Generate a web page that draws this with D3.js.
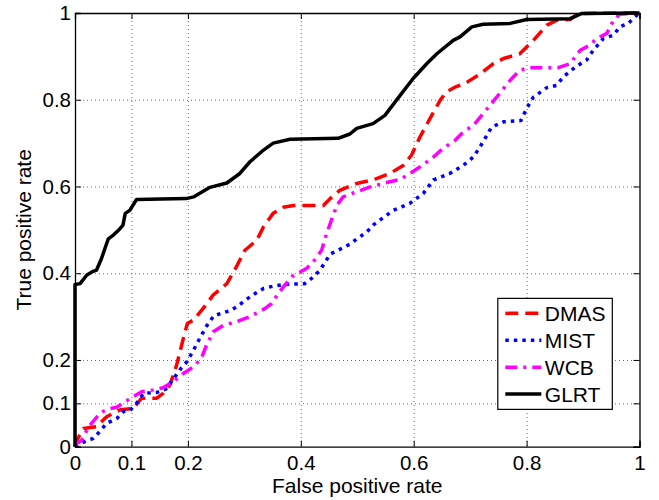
<!DOCTYPE html>
<html>
<head>
<meta charset="utf-8">
<script src="https://cdn.jsdelivr.net/npm/d3@7"></script>
<style>
  body { margin: 0; background: #fff; }
  svg text { font-family: "Liberation Sans", Arial, sans-serif; fill: #000; }
</style>
</head>
<body>
<div id="chart"></div>
<script>
// ROC curves: [false positive rate, true positive rate]
const dmasRoc = [[0,0],[0.002,0.012],[0.015,0.042],[0.038,0.046],[0.056,0.069],[0.080,0.085],[0.103,0.088],
  [0.118,0.112],[0.145,0.112],[0.156,0.123],[0.168,0.142],[0.180,0.188],[0.192,0.250],[0.199,0.284],
  [0.210,0.292],[0.227,0.319],[0.245,0.350],[0.269,0.376],[0.286,0.415],[0.301,0.453],[0.322,0.476],
  [0.334,0.507],[0.351,0.538],[0.369,0.552],[0.387,0.556],[0.440,0.556],[0.452,0.572],[0.469,0.591],
  [0.499,0.607],[0.528,0.615],[0.558,0.630],[0.582,0.649],[0.596,0.672],[0.611,0.714],[0.629,0.757],
  [0.647,0.799],[0.658,0.818],[0.673,0.829],[0.694,0.840],[0.717,0.859],[0.741,0.883],[0.759,0.895],
  [0.788,0.906],[0.812,0.937],[0.836,0.972],[0.853,0.983],[0.877,0.985],[0.892,0.999],[1,1]];

const mistRoc = [[0,0],[0.016,0.011],[0.032,0.019],[0.044,0.035],[0.056,0.054],[0.074,0.065],[0.086,0.081],
  [0.097,0.083],[0.109,0.100],[0.121,0.123],[0.145,0.125],[0.161,0.133],[0.177,0.161],[0.188,0.181],
  [0.199,0.197],[0.210,0.223],[0.221,0.250],[0.233,0.278],[0.246,0.302],[0.275,0.314],[0.287,0.323],
  [0.304,0.340],[0.319,0.353],[0.334,0.365],[0.351,0.370],[0.369,0.374],[0.407,0.376],[0.419,0.388],
  [0.434,0.407],[0.452,0.444],[0.469,0.455],[0.487,0.467],[0.499,0.479],[0.517,0.495],[0.528,0.511],
  [0.564,0.545],[0.593,0.561],[0.617,0.584],[0.635,0.615],[0.664,0.630],[0.688,0.649],[0.706,0.668],
  [0.723,0.703],[0.738,0.737],[0.759,0.749],[0.790,0.752],[0.800,0.780],[0.812,0.806],[0.836,0.828],
  [0.853,0.833],[0.865,0.853],[0.889,0.878],[0.906,0.891],[0.918,0.914],[0.936,0.941],[0.954,0.949],
  [0.965,0.968],[0.980,0.976],[0.992,0.991],[1,1]];

const wcbRoc = [[0,0],[0.002,0.006],[0.012,0.015],[0.023,0.043],[0.032,0.058],[0.044,0.077],[0.056,0.086],
  [0.074,0.091],[0.089,0.104],[0.103,0.115],[0.118,0.127],[0.139,0.131],[0.156,0.136],[0.174,0.150],
  [0.192,0.169],[0.210,0.184],[0.224,0.204],[0.233,0.234],[0.245,0.265],[0.263,0.280],[0.286,0.288],
  [0.310,0.300],[0.337,0.319],[0.348,0.330],[0.360,0.353],[0.372,0.373],[0.384,0.392],[0.399,0.403],
  [0.410,0.411],[0.422,0.426],[0.437,0.453],[0.443,0.480],[0.449,0.503],[0.464,0.557],[0.475,0.576],
  [0.493,0.585],[0.523,0.599],[0.558,0.611],[0.576,0.616],[0.593,0.630],[0.611,0.645],[0.635,0.668],
  [0.652,0.688],[0.673,0.706],[0.688,0.726],[0.706,0.741],[0.723,0.768],[0.747,0.806],[0.771,0.845],
  [0.788,0.868],[0.806,0.874],[0.856,0.874],[0.877,0.883],[0.895,0.914],[0.912,0.926],[0.924,0.941],
  [0.942,0.953],[0.954,0.983],[0.965,0.997],[1,1]];

const glrtRoc = [[0,0],[0,0.374],[0.009,0.376],[0.021,0.396],[0.030,0.403],[0.038,0.407],[0.047,0.434],
  [0.053,0.457],[0.059,0.479],[0.068,0.488],[0.077,0.499],[0.085,0.511],[0.089,0.538],[0.097,0.545],
  [0.109,0.570],[0.197,0.572],[0.210,0.576],[0.239,0.598],[0.269,0.608],[0.292,0.630],[0.310,0.657],
  [0.334,0.684],[0.351,0.700],[0.381,0.709],[0.466,0.711],[0.487,0.721],[0.499,0.734],[0.528,0.745],
  [0.549,0.764],[0.576,0.810],[0.599,0.849],[0.623,0.883],[0.641,0.906],[0.670,0.937],[0.682,0.945],
  [0.703,0.968],[0.723,0.974],[0.771,0.976],[0.800,0.985],[0.877,0.987],[0.898,0.999],[1,1]];

const seriesNames = ["DMAS", "MIST", "WCB", "GLRT"];
const xTicks = [0, 0.1, 0.2, 0.4, 0.6, 0.8, 1];
const yTicks = [0, 0.1, 0.2, 0.4, 0.6, 0.8, 1];

const series = [
  { name: seriesNames[0], data: dmasRoc, color: "#ff0000", dash: "13,7" },
  { name: seriesNames[1], data: mistRoc, color: "#0000ff", dash: "3.5,5" },
  { name: seriesNames[2], data: wcbRoc,  color: "#ff00ff", dash: "12,6,3,6" },
  { name: seriesNames[3], data: glrtRoc, color: "#000000", dash: null }
];

const fullW = 659, fullH = 500;
const margin = { top: 13, right: 19.5, bottom: 53.3, left: 75 };
const W = fullW - margin.left - margin.right;
const H = fullH - margin.top - margin.bottom;

const svg = d3.select("#chart").append("svg")
  .attr("width", fullW).attr("height", fullH);
const g = svg.append("g").attr("transform", `translate(${margin.left},${margin.top})`);

const x = d3.scaleLinear().domain([0, 1]).range([0, W]);
const y = d3.scaleLinear().domain([0, 1]).range([H, 0]);

// dotted grid
const grid = g.append("g").attr("stroke", "#6e6e6e").attr("stroke-width", 1).attr("stroke-dasharray", "1,3");
grid.selectAll(".gx").data(xTicks.filter(d => d > 0 && d < 1)).enter().append("line")
  .attr("x1", d => x(d) + 0.5).attr("x2", d => x(d) + 0.5).attr("y1", 0).attr("y2", H);
grid.selectAll(".gy").data(yTicks.filter(d => d > 0 && d < 1)).enter().append("line")
  .attr("y1", d => y(d) + 0.5).attr("y2", d => y(d) + 0.5).attr("x1", 0).attr("x2", W);

// curves
const line = d3.line().x(d => x(d[0])).y(d => y(d[1]));
series.forEach(s => {
  g.append("path")
    .datum(s.data)
    .attr("fill", "none")
    .attr("stroke", s.color)
    .attr("stroke-width", 3.5)
    .attr("stroke-linejoin", "round")
    .attr("stroke-dasharray", s.dash)
    .attr("d", line);
});

// axes, ticks pointing inward on all four sides
const tick = 6;
g.append("g").attr("transform", `translate(0,${H})`)
  .call(d3.axisBottom(x).tickValues(xTicks).tickSize(-tick).tickPadding(9).tickFormat(d3.format("~g")));
g.append("g")
  .call(d3.axisLeft(y).tickValues(yTicks).tickSize(-tick).tickPadding(4).tickFormat(d3.format("~g")));
g.append("g")
  .call(d3.axisTop(x).tickValues(xTicks).tickSize(-tick).tickFormat(""));
g.append("g").attr("transform", `translate(${W},0)`)
  .call(d3.axisRight(y).tickValues(yTicks).tickSize(-tick).tickFormat(""));

g.selectAll(".domain").attr("stroke", "#000").attr("stroke-width", 1.3);
g.selectAll(".tick line").attr("stroke", "#000").attr("stroke-width", 1);
g.selectAll(".tick text")
  .style("font-size", "20.5px")
  .style("font-family", "'Liberation Sans', Arial, sans-serif")
  .attr("fill", "#000");

// axis labels
g.append("text")
  .attr("text-anchor", "middle")
  .attr("x", W / 2).attr("y", H + 46)
  .style("font-size", "21px")
  .text("False positive rate");
g.append("text")
  .attr("text-anchor", "middle")
  .attr("transform", `translate(-44,${H / 2}) rotate(-90)`)
  .style("font-size", "21px")
  .text("True positive rate");

// legend
const legX = x(0.749), legY = y(0.342);
const leg = g.append("g").attr("transform", `translate(${legX},${legY})`);
leg.append("rect")
  .attr("width", 114.5).attr("height", 111)
  .attr("fill", "#fff").attr("stroke", "#000").attr("stroke-width", 1.2);
series.forEach((s, i) => {
  const ly = 15 + i * 26.9;
  leg.append("line")
    .attr("x1", 7.5).attr("x2", 43.5).attr("y1", ly).attr("y2", ly)
    .attr("stroke", s.color).attr("stroke-width", 3.5)
    .attr("stroke-dasharray", s.dash);
  leg.append("text")
    .attr("x", 47).attr("y", ly + 7.5)
    .style("font-size", "21px")
    .text(s.name);
});
</script>
</body>
</html>
